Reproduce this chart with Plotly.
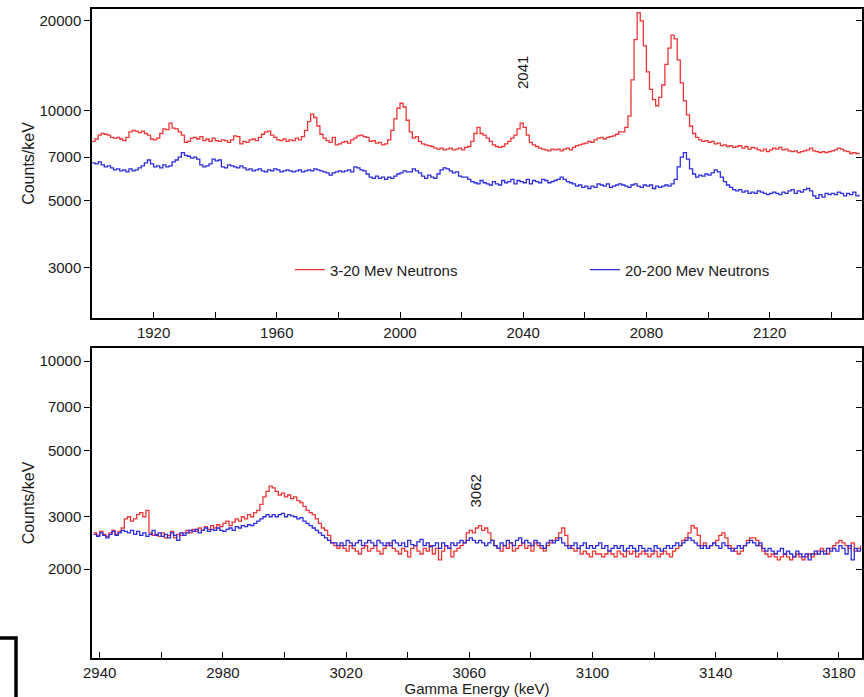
import plotly.graph_objects as go
import math

# ---------------- data ----------------
top_energy = list(range(1900, 2150))      # keV, 1 keV bins
bot_energy = list(range(2938, 3188))

top_red = [
    7900, 8050, 8300, 8400, 8350, 8300, 8150, 8100, 8150, 8050,
    7950, 8150, 8500, 8600, 8550, 8450, 8550, 8400, 8300, 8050,
    8000, 8100, 8400, 8700, 8650, 9100, 8750, 8700, 8500, 8300,
    7850, 7900, 8100, 8150, 8050, 8200, 7950, 8050, 7900, 8100,
    7950, 7900, 8000, 7950, 7850, 8000, 8250, 8200, 7750, 7900,
    7850, 8000, 8050, 7950, 8150, 8350, 8500, 8550, 8300, 8150,
    8000, 7950, 8050, 7900, 8000, 7950, 8100, 8000, 8200, 8600,
    9200, 9750, 9500, 8900, 8350, 8100, 7950, 7850, 8150, 7700,
    7750, 7850, 7900, 7800, 8000, 8100, 8250, 8300, 8200, 8150,
    7900, 7950, 7800, 7850, 7700, 7750, 8000, 8600, 9400, 10200,
    10600, 10300, 9300, 8500, 8100, 8200, 7900, 7750, 7700, 7650,
    7600, 7500, 7450, 7500, 7400, 7450, 7500, 7400, 7450, 7500,
    7400, 7550, 7600, 7900, 8400, 8800, 8400, 8300, 8100, 7900,
    7700, 7600, 7550, 7600, 7750, 7900, 8100, 8300, 8700, 9100,
    8800, 8300, 7850, 7700, 7600, 7500, 7450, 7400, 7350, 7450,
    7400, 7450, 7350, 7450, 7500, 7400, 7550, 7650, 7700, 7750,
    7800, 7900, 7850, 8000, 8100, 8150, 8050, 8150, 8200, 8250,
    8350, 8500, 8500, 8800, 9600, 12700, 17300, 21300, 20000, 16500,
    13500, 11800, 10900, 10400, 11100, 12200, 14300, 16200, 17900, 17400,
    14800, 12400, 10800, 9700, 8900, 8400, 8150, 8000, 7900, 7950,
    7850, 7900, 7750, 7800, 7650, 7700, 7600, 7650, 7550, 7600,
    7650, 7500, 7600, 7450, 7550, 7500, 7400, 7350, 7450, 7300,
    7400, 7500, 7450, 7550, 7400, 7450, 7350, 7300, 7350, 7250,
    7300, 7350, 7400, 7500, 7350, 7300, 7250, 7300, 7250, 7300,
    7350, 7400, 7500, 7450, 7350, 7300, 7200, 7250, 7200, 7150,
]

top_blue = [
    6700, 6650, 6750, 6600, 6500, 6550, 6450, 6350, 6400, 6300,
    6350, 6250, 6400, 6300, 6350, 6450, 6550, 6700, 6850, 6650,
    6500, 6550, 6450, 6600, 6500, 6550, 6750, 6850, 7000, 7250,
    7100, 7050, 6950, 7000, 6900, 6600, 6500, 6550, 6650, 6900,
    6800, 6850, 6500, 6450, 6600, 6550, 6500, 6450, 6550, 6450,
    6350, 6400, 6300, 6350, 6400, 6300, 6250, 6350, 6300, 6400,
    6350, 6250, 6300, 6350, 6300, 6250, 6300, 6350, 6250, 6300,
    6350, 6300, 6400, 6350, 6300, 6250, 6200, 6100, 6200, 6250,
    6300, 6250, 6300, 6350, 6250, 6500, 6450, 6350, 6300, 6150,
    6000, 5950, 6050, 5950, 6000, 5900, 6000, 5950, 6050, 6150,
    6200, 6300, 6250, 6250, 6400, 6300, 6200, 6050, 5950, 6100,
    6000, 5950, 6150, 6350, 6450, 6400, 6300, 6200, 6250, 6050,
    6000, 6000, 5900, 5800, 5750, 5700, 5850, 5750, 5700, 5650,
    5800, 5700, 5650, 5850, 5750, 5800, 5900, 5700, 5850, 5800,
    5750, 5900, 5700, 5850, 5800, 5750, 5900, 5850, 5750, 5800,
    5850, 5900, 6000, 5900, 5800, 5750, 5700, 5600, 5650, 5550,
    5600, 5500, 5600, 5550, 5700, 5650, 5600, 5700, 5550, 5600,
    5650, 5700, 5650, 5600, 5550, 5650, 5700, 5600, 5550, 5650,
    5600, 5650, 5500, 5600, 5550, 5600, 5650, 5600, 5700, 5900,
    6500, 7000, 7250, 6900, 6400, 6150, 6000, 6100, 6050, 6150,
    6100, 6200, 6350, 6250, 6000, 5800, 5650, 5550, 5450, 5400,
    5450, 5350, 5400, 5300, 5350, 5300, 5400, 5350, 5300, 5250,
    5300, 5350, 5300, 5250, 5350, 5300, 5400, 5450, 5300, 5400,
    5350, 5450, 5500, 5400, 5200, 5100, 5250, 5150, 5300, 5250,
    5300, 5250, 5350, 5300, 5200, 5300, 5250, 5350, 5200, 5250,
]

bot_red = [
    2650, 2600, 2680, 2620, 2580, 2650, 2700, 2620, 2680, 2750,
    2950, 3000, 2900, 2950, 3050, 3100, 3000, 3150, 2650, 2600,
    2620, 2580, 2650, 2550, 2600, 2680, 2550, 2620, 2600, 2650,
    2700, 2650, 2720, 2680, 2750, 2700, 2780, 2720, 2800, 2750,
    2820, 2780, 2850, 2900, 2800, 2880, 2950, 2900, 3000, 2950,
    3050, 3000, 3100, 3150, 3300, 3500, 3650, 3800, 3750, 3650,
    3550, 3600, 3500, 3550, 3450, 3500, 3400, 3350, 3250, 3150,
    3100, 3050, 2950, 2850, 2750, 2700, 2600, 2450, 2400, 2350,
    2400, 2350, 2300, 2400, 2350, 2300, 2250, 2350, 2400, 2300,
    2350, 2400, 2300, 2250, 2350, 2400, 2450, 2350, 2300, 2250,
    2350, 2300, 2200, 2350, 2400, 2300, 2250, 2350, 2300, 2400,
    2250, 2350, 2150, 2300, 2400, 2350, 2200, 2300, 2350, 2400,
    2450, 2650, 2700, 2650, 2750, 2800, 2700, 2750, 2650, 2500,
    2400, 2350, 2300, 2400, 2350, 2450, 2300, 2350, 2400, 2450,
    2350, 2400, 2300, 2450, 2400, 2350, 2300, 2400, 2450, 2500,
    2550, 2650, 2750, 2600, 2400, 2350, 2300, 2350, 2250, 2300,
    2250, 2200, 2300, 2250, 2250, 2200, 2250, 2300, 2250, 2200,
    2300, 2250, 2200, 2300, 2250, 2300, 2200, 2250, 2300, 2250,
    2200, 2250, 2300, 2200, 2250, 2300, 2250, 2200, 2300, 2350,
    2400, 2500, 2550, 2650, 2800, 2750, 2600, 2400, 2450, 2350,
    2400, 2450, 2500, 2600, 2650, 2550, 2400, 2350, 2300, 2250,
    2300, 2400, 2500, 2550, 2550, 2500, 2400, 2300, 2250, 2200,
    2250, 2200, 2150, 2200, 2250, 2200, 2150, 2200, 2250, 2200,
    2150, 2200, 2250, 2200, 2250, 2300, 2350, 2300, 2250, 2350,
    2400, 2450, 2500, 2450, 2400, 2350, 2450, 2300, 2350, 2400,
]

bot_blue = [
    2620, 2580, 2650, 2600, 2550, 2620, 2680, 2600, 2650, 2700,
    2680, 2650, 2700, 2620, 2680, 2600, 2650, 2580, 2620, 2700,
    2600, 2650, 2580, 2620, 2550, 2650, 2600, 2500, 2650, 2600,
    2650, 2700, 2680, 2720, 2650, 2700, 2750, 2680, 2720, 2700,
    2750, 2700, 2680, 2720, 2750, 2700, 2780, 2750, 2800, 2780,
    2820, 2800, 2850, 2900, 2950, 3000, 3050, 3000, 3050, 3000,
    3050, 3080, 3000, 3050, 3020, 3000, 2950, 2980, 2900, 2850,
    2800, 2750, 2700, 2650, 2600, 2550, 2500, 2450, 2450, 2400,
    2450, 2400, 2500, 2450, 2400, 2450, 2500, 2400, 2450, 2500,
    2450, 2400, 2500, 2450, 2400, 2450, 2400, 2500, 2450, 2400,
    2450, 2380, 2500, 2420, 2400, 2470, 2520, 2400, 2450, 2380,
    2400, 2450, 2350, 2450, 2400, 2350, 2450, 2400, 2450, 2500,
    2450, 2500, 2550, 2500, 2450, 2500, 2450, 2400, 2450, 2500,
    2400, 2350, 2450, 2400, 2500, 2450, 2400, 2500, 2550, 2450,
    2500, 2450, 2400, 2500, 2450, 2400, 2350, 2450, 2500, 2450,
    2500, 2550, 2450, 2400, 2350, 2400, 2450, 2350, 2400, 2450,
    2350, 2400, 2350, 2400, 2450, 2350, 2400, 2300, 2350, 2400,
    2350, 2400, 2300, 2350, 2400, 2350, 2300, 2400, 2350, 2300,
    2350, 2300, 2400, 2350, 2300, 2350, 2400, 2350, 2400, 2450,
    2400, 2450, 2500, 2550, 2500, 2450, 2400, 2350, 2400, 2350,
    2400, 2450, 2400, 2350, 2450, 2400, 2350, 2300, 2350, 2400,
    2350, 2400, 2450, 2500, 2450, 2400, 2450, 2350, 2300, 2350,
    2300, 2250, 2300, 2350, 2250, 2300, 2250, 2200, 2300, 2250,
    2200, 2250, 2150, 2250, 2300, 2250, 2300, 2250, 2350, 2300,
    2350, 2300, 2400, 2350, 2250, 2400, 2150, 2350, 2300, 2350,
]

series_names = ["3-20 Mev Neutrons", "20-200 Mev Neutrons"]

top_xtickvals = [1920, 1940, 1960, 1980, 2000, 2020, 2040, 2060, 2080, 2100, 2120, 2140]
top_xticktext = ["1920", "", "1960", "", "2000", "", "2040", "", "2080", "", "2120", ""]
bot_xtickvals = [2940, 2960, 2980, 3000, 3020, 3040, 3060, 3080, 3100, 3120, 3140, 3160, 3180]
bot_xticktext = ["2940", "", "2980", "", "3020", "", "3060", "", "3100", "", "3140", "", "3180"]
top_ytickvals = [3000, 5000, 7000, 10000, 20000]
bot_ytickvals = [2000, 3000, 5000, 7000, 10000]

peak_labels = [("2041", 2040, 13400), ("3062", 3062, 3660)]

# ---------------- styling ----------------
RED = "#ee3535"
BLUE = "#2d2de0"
FONT = "Liberation Sans, Arial, Helvetica, sans-serif"
TXT = "#1a1a1a"

fig = go.Figure()
fig.add_trace(go.Scatter(x=top_energy, y=top_red, mode="lines", line=dict(color=RED, width=1.3, shape="hv"),
                         name=series_names[0], xaxis="x", yaxis="y"))
fig.add_trace(go.Scatter(x=top_energy, y=top_blue, mode="lines", line=dict(color=BLUE, width=1.3, shape="hv"),
                         name=series_names[1], xaxis="x", yaxis="y"))
fig.add_trace(go.Scatter(x=bot_energy, y=bot_red, mode="lines", line=dict(color=RED, width=1.3, shape="hv"),
                         name=series_names[0], xaxis="x2", yaxis="y2", showlegend=False))
fig.add_trace(go.Scatter(x=bot_energy, y=bot_blue, mode="lines", line=dict(color=BLUE, width=1.3, shape="hv"),
                         name=series_names[1], xaxis="x2", yaxis="y2", showlegend=False))
# empty traces so the right-side tick axes are drawn
fig.add_trace(go.Scatter(x=[], y=[], xaxis="x", yaxis="y3", showlegend=False))
fig.add_trace(go.Scatter(x=[], y=[], xaxis="x2", yaxis="y4", showlegend=False))

top_yr = [math.log10(2030), math.log10(21900)]
bot_yr = [math.log10(1007), math.log10(11060)]

common_x = dict(showline=True, linecolor="black", linewidth=1.5, mirror=True, ticks="inside",
                ticklen=6, tickcolor="black", tickwidth=1.2, showgrid=False, zeroline=False,
                tickfont=dict(family=FONT, size=15, color=TXT), automargin=False)
common_y = dict(type="log", showline=True, linecolor="black", linewidth=1.5, mirror=True, ticks="outside",
                ticklen=6, tickcolor="black", tickwidth=1.2, showgrid=False, zeroline=False,
                tickfont=dict(family=FONT, size=15, color=TXT), automargin=False,
                title=dict(text="Counts/keV", font=dict(family=FONT, size=16, color=TXT), standoff=1))
right_y = dict(type="log", side="right", ticks="inside", ticklen=6, tickcolor="black", tickwidth=1.2,
               showticklabels=False, showline=False, showgrid=False, zeroline=False, automargin=False)

fig.update_layout(
    width=864, height=697,
    margin=dict(l=92, r=2, t=9, b=39, autoexpand=False),
    paper_bgcolor="white", plot_bgcolor="white",
    font=dict(family=FONT, color=TXT),
    xaxis=dict(domain=[0, 1], anchor="y", range=[1900, 2150], tickvals=top_xtickvals, ticktext=top_xticktext,
               **common_x),
    yaxis=dict(domain=[0.5239, 1], anchor="x", range=top_yr, tickvals=top_ytickvals,
               ticktext=[str(v) for v in top_ytickvals], **common_y),
    yaxis3=dict(overlaying="y", anchor="x", range=top_yr, tickvals=top_ytickvals, **right_y),
    xaxis2=dict(domain=[0, 1], anchor="y2", range=[2937.5, 3187.5], tickvals=bot_xtickvals, ticktext=bot_xticktext,
                title=dict(text="Gamma Energy (keV)", font=dict(family=FONT, size=15, color=TXT), standoff=0),
                **common_x),
    yaxis2=dict(domain=[0, 0.4777], anchor="x2", range=bot_yr, tickvals=bot_ytickvals,
                ticktext=[str(v) for v in bot_ytickvals], **common_y),
    yaxis4=dict(overlaying="y2", anchor="x2", range=bot_yr, tickvals=bot_ytickvals, **right_y),
    showlegend=True,
    legend=dict(orientation="h", x=0.257, y=0.598, xanchor="left", yanchor="middle",
                bgcolor="rgba(0,0,0,0)", borderwidth=0, entrywidth=250, entrywidthmode="pixels",
                font=dict(family=FONT, size=15, color=TXT)),
)

fig.add_annotation(text=peak_labels[0][0], x=peak_labels[0][1], y=math.log10(peak_labels[0][2]),
                   xref="x", yref="y", showarrow=False, textangle=-90,
                   font=dict(family=FONT, size=15, color=TXT))
fig.add_annotation(text=peak_labels[1][0], x=peak_labels[1][1], y=math.log10(peak_labels[1][2]),
                   xref="x2", yref="y2", showarrow=False, textangle=-90,
                   font=dict(family=FONT, size=15, color=TXT))

# stray frame corner at bottom-left of the original figure
fig.add_shape(type="path", xref="paper", yref="paper",
              path="M -0.125 0.0308 L -0.0987 0.0308 L -0.0987 -0.07",
              line=dict(color="black", width=3.5))

fig.write_html("out.html", post_script="document.body.style.margin='0px';",
               config={"displayModeBar": False})
